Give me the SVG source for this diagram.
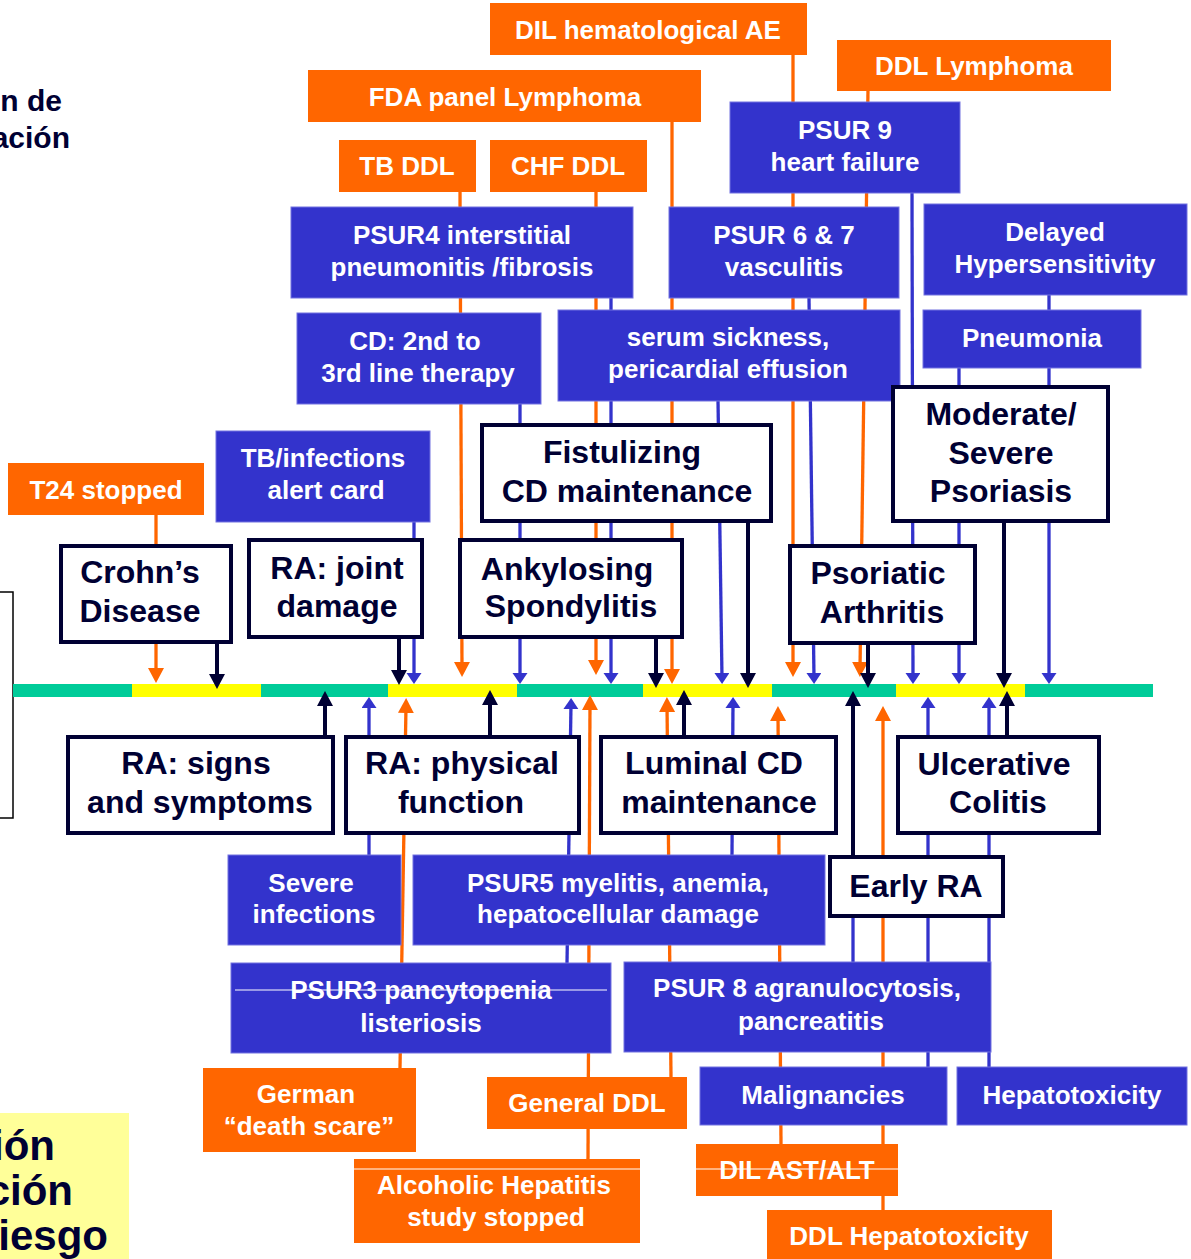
<svg xmlns="http://www.w3.org/2000/svg" width="1191" height="1259" viewBox="0 0 1191 1259">
  <style>
    .ob { fill: #FF6600; }
    .bb { fill: #3333CC; stroke: #7272E0; stroke-width: 1; }
    .wb { fill: #FFFFFF; stroke: #000033; stroke-width: 4; }
    .wt { fill: #FFFFFF; font-family: "Liberation Sans", Arial, sans-serif; font-weight: bold; font-size: 26px; text-anchor: middle; }
    .nt { fill: #000033; font-family: "Liberation Sans", Arial, sans-serif; font-weight: bold; font-size: 32px; text-anchor: middle; }
    .side { fill: #000033; font-family: "Liberation Sans", Arial, sans-serif; font-weight: bold; text-anchor: end; }
    .co { stroke: #FF6600; stroke-width: 3.3; fill: none; }
    .cb { stroke: #3333CC; stroke-width: 3.3; fill: none; }
    .cn { stroke: #000033; stroke-width: 4; fill: none; }
    .strike { stroke: #FFFFFF; stroke-width: 1; }
  </style>
  <defs>
    <marker id="arrO" markerUnits="userSpaceOnUse" markerWidth="16" markerHeight="16" refX="7" refY="8" orient="auto">
      <path d="M0,0 L15,8 L0,16 z" fill="#FF6600"/>
    </marker>
    <marker id="arrB" markerUnits="userSpaceOnUse" markerWidth="12" markerHeight="16" refX="5" refY="7.5" orient="auto">
      <path d="M0,0 L11,7.5 L0,15 z" fill="#3333CC"/>
    </marker>
    <marker id="arrN" markerUnits="userSpaceOnUse" markerWidth="16" markerHeight="16" refX="7" refY="8" orient="auto">
      <path d="M0,0 L15,8 L0,16 z" fill="#000033"/>
    </marker>
  </defs>

  <rect width="1191" height="1259" fill="#FFFFFF"/>

  <!-- side titles, partly outside the frame -->
  <g id="side-title-top">
    <text class="side" x="62" y="111" font-size="30">n de</text>
    <text class="side" x="70" y="148" font-size="30">ación</text>
  </g>
  <g id="side-frame">
    <rect x="-10" y="592" width="23" height="226" fill="none" stroke="#000000" stroke-width="1.5"/>
  </g>
  <g id="side-title-bottom">
    <rect x="0" y="1113" width="129" height="146" fill="#FFFF99"/>
    <text class="side" x="55" y="1160" font-size="42">ión</text>
    <text class="side" x="73" y="1205" font-size="42">ción</text>
    <text class="side" x="108" y="1250" font-size="42">iesgo</text>
  </g>

  <!-- time axis -->
  <g id="timeline">
    <rect x="13" y="684" width="1140" height="13" fill="#00CC99"/>
    <rect x="132" y="684" width="129" height="13" fill="#FFFF00"/>
    <rect x="388" y="684" width="129" height="13" fill="#FFFF00"/>
    <rect x="643" y="684" width="129" height="13" fill="#FFFF00"/>
    <rect x="896" y="684" width="129" height="13" fill="#FFFF00"/>
  </g>

  <!-- connectors onto the time axis -->
  <g id="connectors">
    <!-- from above: orange -->
    <path class="co" d="M156,515 L156,675" marker-end="url(#arrO)"/>
    <path class="co" d="M460,191 L462,669" marker-end="url(#arrO)"/>
    <path class="co" d="M596,191 L596,667" marker-end="url(#arrO)"/>
    <path class="co" d="M672,121 L672,676" marker-end="url(#arrO)"/>
    <path class="co" d="M793,54 L793,669" marker-end="url(#arrO)"/>
    <path class="co" d="M868,90 L860,669" marker-end="url(#arrO)"/>
    <!-- from above: blue -->
    <path class="cb" d="M414,522 L414,678" marker-end="url(#arrB)"/>
    <path class="cb" d="M520,404 L520,678" marker-end="url(#arrB)"/>
    <path class="cb" d="M611,298 L611,678" marker-end="url(#arrB)"/>
    <path class="cb" d="M718,400 L722,678" marker-end="url(#arrB)"/>
    <path class="cb" d="M809,298 L814,678" marker-end="url(#arrB)"/>
    <path class="cb" d="M912,192 L913,678" marker-end="url(#arrB)"/>
    <path class="cb" d="M959,368 L959,678" marker-end="url(#arrB)"/>
    <path class="cb" d="M1049,295 L1049,678" marker-end="url(#arrB)"/>
    <!-- from above: indications -->
    <path class="cn" d="M217,644 L217,681" marker-end="url(#arrN)"/>
    <path class="cn" d="M399,638 L399,677" marker-end="url(#arrN)"/>
    <path class="cn" d="M656,638 L656,680" marker-end="url(#arrN)"/>
    <path class="cn" d="M748,523 L748,680" marker-end="url(#arrN)"/>
    <path class="cn" d="M868,644 L868,680" marker-end="url(#arrN)"/>
    <path class="cn" d="M1004,523 L1004,680" marker-end="url(#arrN)"/>
    <!-- from below: indications -->
    <path class="cn" d="M325,736 L325,699" marker-end="url(#arrN)"/>
    <path class="cn" d="M490,736 L490,698" marker-end="url(#arrN)"/>
    <path class="cn" d="M684,736 L684,698" marker-end="url(#arrN)"/>
    <path class="cn" d="M853,855 L853,699" marker-end="url(#arrN)"/>
    <path class="cn" d="M1007,736 L1007,699" marker-end="url(#arrN)"/>
    <!-- from below: blue -->
    <path class="cb" d="M369,855 L369,703" marker-end="url(#arrB)"/>
    <path class="cb" d="M567,963 L571,704" marker-end="url(#arrB)"/>
    <path class="cb" d="M732,855 L733,703" marker-end="url(#arrB)"/>
    <path class="cb" d="M928,1067 L928,703" marker-end="url(#arrB)"/>
    <path class="cb" d="M989,1067 L989,703" marker-end="url(#arrB)"/>
    <path class="cb" d="M853,918 L853,962"/>
    <!-- from below: orange -->
    <path class="co" d="M400,1068 L406,706" marker-end="url(#arrO)"/>
    <path class="co" d="M588,1159 L590,703" marker-end="url(#arrO)"/>
    <path class="co" d="M671,1077 L667,705" marker-end="url(#arrO)"/>
    <path class="co" d="M781,1144 L778,714" marker-end="url(#arrO)"/>
    <path class="co" d="M883,1210 L883,714" marker-end="url(#arrO)"/>
  </g>

  <!-- upper event boxes -->
  <g id="dil-hematological-ae">
    <rect class="ob" x="490" y="3" width="317" height="52"/>
    <text class="wt" x="648" y="39">DIL hematological AE</text>
  </g>
  <g id="fda-panel-lymphoma">
    <rect class="ob" x="308" y="70" width="393" height="52"/>
    <text class="wt" x="505" y="106">FDA panel Lymphoma</text>
  </g>
  <g id="ddl-lymphoma">
    <rect class="ob" x="837" y="40" width="274" height="51"/>
    <text class="wt" x="974" y="75">DDL Lymphoma</text>
  </g>
  <g id="tb-ddl">
    <rect class="ob" x="339" y="140" width="137" height="52"/>
    <text class="wt" x="407" y="175">TB DDL</text>
  </g>
  <g id="chf-ddl">
    <rect class="ob" x="490" y="140" width="157" height="52"/>
    <text class="wt" x="568" y="175">CHF DDL</text>
  </g>
  <g id="psur9">
    <rect class="bb" x="730" y="102" width="230" height="91"/>
    <text class="wt" x="845" y="139">PSUR 9</text>
    <text class="wt" x="845" y="171">heart failure</text>
  </g>
  <g id="psur4">
    <rect class="bb" x="291" y="207" width="342" height="91"/>
    <text class="wt" x="462" y="244">PSUR4 interstitial</text>
    <text class="wt" x="462" y="276">pneumonitis /fibrosis</text>
  </g>
  <g id="psur6-7">
    <rect class="bb" x="669" y="207" width="230" height="91"/>
    <text class="wt" x="784" y="244">PSUR 6 &amp; 7</text>
    <text class="wt" x="784" y="276">vasculitis</text>
  </g>
  <g id="delayed-hypersensitivity">
    <rect class="bb" x="924" y="204" width="263" height="91"/>
    <text class="wt" x="1055" y="241">Delayed</text>
    <text class="wt" x="1055" y="273">Hypersensitivity</text>
  </g>
  <g id="cd-2nd-3rd-line">
    <rect class="bb" x="297" y="313" width="244" height="91"/>
    <text class="wt" x="415" y="350">CD: 2nd to</text>
    <text class="wt" x="418" y="382">3rd line therapy</text>
  </g>
  <g id="serum-sickness">
    <rect class="bb" x="558" y="310" width="342" height="91"/>
    <text class="wt" x="728" y="346">serum sickness,</text>
    <text class="wt" x="728" y="378">pericardial effusion</text>
  </g>
  <g id="pneumonia">
    <rect class="bb" x="923" y="310" width="218" height="58"/>
    <text class="wt" x="1032" y="347">Pneumonia</text>
  </g>
  <g id="tb-alert-card">
    <rect class="bb" x="216" y="431" width="214" height="91"/>
    <text class="wt" x="323" y="467">TB/infections</text>
    <text class="wt" x="326" y="499">alert card</text>
  </g>
  <g id="t24-stopped">
    <rect class="ob" x="8" y="463" width="196" height="52"/>
    <text class="wt" x="106" y="499">T24 stopped</text>
  </g>

  <!-- indications -->
  <g id="fistulizing-cd">
    <rect class="wb" x="482" y="425" width="289" height="96"/>
    <text class="nt" x="622" y="463">Fistulizing</text>
    <text class="nt" x="627" y="502">CD maintenance</text>
  </g>
  <g id="psoriasis">
    <rect class="wb" x="893" y="387" width="215" height="134"/>
    <text class="nt" x="1001" y="425">Moderate/</text>
    <text class="nt" x="1001" y="464">Severe</text>
    <text class="nt" x="1001" y="502">Psoriasis</text>
  </g>
  <g id="crohns-disease">
    <rect class="wb" x="61" y="546" width="170" height="96"/>
    <text class="nt" x="140" y="583">Crohn’s</text>
    <text class="nt" x="140" y="622">Disease</text>
  </g>
  <g id="ra-joint-damage">
    <rect class="wb" x="249" y="540" width="173" height="97"/>
    <text class="nt" x="337" y="579">RA: joint</text>
    <text class="nt" x="337" y="617">damage</text>
  </g>
  <g id="ankylosing-spondylitis">
    <rect class="wb" x="460" y="540" width="222" height="97"/>
    <text class="nt" x="567" y="580">Ankylosing</text>
    <text class="nt" x="571" y="617">Spondylitis</text>
  </g>
  <g id="psoriatic-arthritis">
    <rect class="wb" x="790" y="546" width="185" height="97"/>
    <text class="nt" x="878" y="584">Psoriatic</text>
    <text class="nt" x="882" y="623">Arthritis</text>
  </g>
  <g id="ra-signs-symptoms">
    <rect class="wb" x="68" y="737" width="265" height="96"/>
    <text class="nt" x="196" y="774">RA: signs</text>
    <text class="nt" x="200" y="813">and symptoms</text>
  </g>
  <g id="ra-physical-function">
    <rect class="wb" x="346" y="737" width="233" height="96"/>
    <text class="nt" x="462" y="774">RA: physical</text>
    <text class="nt" x="461" y="813">function</text>
  </g>
  <g id="luminal-cd">
    <rect class="wb" x="601" y="737" width="235" height="96"/>
    <text class="nt" x="714" y="774">Luminal CD</text>
    <text class="nt" x="719" y="813">maintenance</text>
  </g>
  <g id="ulcerative-colitis">
    <rect class="wb" x="898" y="737" width="201" height="96"/>
    <text class="nt" x="994" y="775">Ulcerative</text>
    <text class="nt" x="998" y="813">Colitis</text>
  </g>
  <g id="early-ra">
    <rect class="wb" x="830" y="857" width="173" height="59"/>
    <text class="nt" x="916" y="897">Early RA</text>
  </g>

  <!-- lower event boxes -->
  <g id="severe-infections">
    <rect class="bb" x="228" y="855" width="173" height="90"/>
    <text class="wt" x="311" y="892">Severe</text>
    <text class="wt" x="314" y="923">infections</text>
  </g>
  <g id="psur5">
    <rect class="bb" x="413" y="855" width="412" height="90"/>
    <text class="wt" x="618" y="892">PSUR5 myelitis, anemia,</text>
    <text class="wt" x="618" y="923">hepatocellular damage</text>
  </g>
  <g id="psur3">
    <rect class="bb" x="231" y="963" width="380" height="90"/>
    <text class="wt" x="421" y="999">PSUR3 pancytopenia</text>
    <text class="wt" x="421" y="1032">listeriosis</text>
    <line class="strike" x1="235" y1="990" x2="607" y2="990"/>
  </g>
  <g id="psur8">
    <rect class="bb" x="624" y="962" width="367" height="90"/>
    <text class="wt" x="807" y="997">PSUR 8 agranulocytosis,</text>
    <text class="wt" x="811" y="1030">pancreatitis</text>
  </g>
  <g id="malignancies">
    <rect class="bb" x="700" y="1067" width="247" height="58"/>
    <text class="wt" x="823" y="1104">Malignancies</text>
  </g>
  <g id="hepatotoxicity">
    <rect class="bb" x="957" y="1067" width="230" height="58"/>
    <text class="wt" x="1072" y="1104">Hepatotoxicity</text>
  </g>
  <g id="german-death-scare">
    <rect class="ob" x="203" y="1068" width="213" height="84"/>
    <text class="wt" x="306" y="1103">German</text>
    <text class="wt" x="309" y="1135">“death scare”</text>
  </g>
  <g id="general-ddl">
    <rect class="ob" x="487" y="1077" width="200" height="52"/>
    <text class="wt" x="587" y="1112">General DDL</text>
  </g>
  <g id="alcoholic-hepatitis">
    <rect class="ob" x="354" y="1159" width="286" height="84"/>
    <line class="strike" x1="354" y1="1169" x2="640" y2="1169"/>
    <text class="wt" x="494" y="1194">Alcoholic Hepatitis</text>
    <text class="wt" x="496" y="1226">study stopped</text>
  </g>
  <g id="dil-ast-alt">
    <rect class="ob" x="696" y="1144" width="202" height="52"/>
    <text class="wt" x="797" y="1179">DIL AST/ALT</text>
    <line class="strike" x1="696" y1="1169" x2="898" y2="1169"/>
  </g>
  <g id="ddl-hepatotoxicity">
    <rect class="ob" x="767" y="1210" width="285" height="49"/>
    <text class="wt" x="909" y="1245">DDL Hepatotoxicity</text>
  </g>
</svg>
